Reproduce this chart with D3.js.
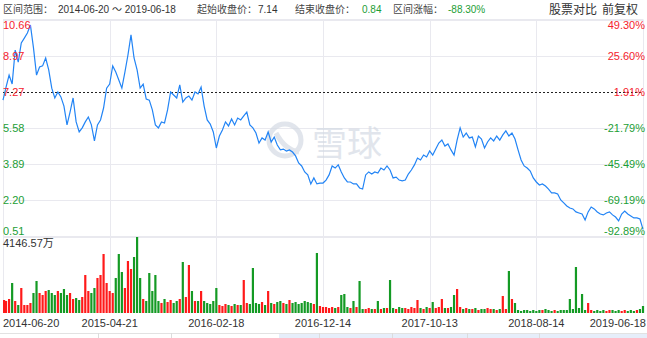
<!DOCTYPE html>
<html lang="zh">
<head>
<meta charset="UTF-8">
<script src="https://cdn.jsdelivr.net/npm/d3@7"></script>
<style>
    body { margin: 0; background: #fff; }
    svg { display: block; font-family: "Liberation Sans", Arial, "Noto Sans CJK SC", sans-serif; }
</style>
</head>
<body>
<div id="chart"></div>
<script>
    // axis labels
    const dateLabels = ["2014-06-20", "2015-04-21", "2016-02-18", "2016-12-14", "2017-10-13", "2018-08-14", "2019-06-18"];
    const dateIndex = [0, 35, 70, 105, 140, 175, 210];
    const priceTicks = [10.66, 8.97, 7.27, 5.58, 3.89, 2.20, 0.51];
    const pctTicks = ["49.30%", "25.60%", "1.91%", "-21.79%", "-45.49%", "-69.19%", "-92.89%"];
    const maxVolume = 4146.57; // 万

    // close price, evenly spaced over the period
    const closes = [
        6.89, 7.50, 8.06, 7.64, 9.23, 8.67, 9.56, 9.79, 10.03, 10.40,
        9.33, 8.06, 8.44, 8.49, 8.86, 8.30, 7.45, 6.99, 7.27, 7.04,
        6.61, 5.73, 6.33, 6.99, 5.87, 5.40, 5.59, 5.87, 6.10, 5.73,
        4.98, 5.73, 5.96, 6.52, 7.45, 7.64, 8.49, 8.20, 7.83, 7.45,
        8.20, 9.00, 9.94, 8.86, 8.30, 7.45, 7.64, 6.94, 6.89, 6.43,
        5.73, 5.59, 5.87, 5.82, 6.43, 7.27, 7.13, 6.99, 7.60, 6.80,
        6.99, 7.08, 6.89, 7.27, 7.18, 7.50, 6.61, 5.96, 5.77, 5.40,
        4.65, 5.21, 5.49, 5.87, 5.68, 6.01, 5.73, 6.05, 5.96, 6.15,
        6.33, 5.73, 5.59, 5.35, 4.88, 5.12, 5.02, 5.40, 4.93, 5.16,
        4.79, 4.56, 4.60, 4.51, 4.56, 4.46, 4.28, 3.95, 3.81, 3.53,
        3.39, 2.97, 3.25, 2.97, 3.01, 3.01, 3.15, 3.39, 3.81, 3.71,
        3.86, 3.53, 3.25, 3.06, 3.06, 2.97, 2.97, 2.78, 2.73, 3.39,
        3.53, 3.43, 3.53, 3.48, 3.71, 3.62, 3.81, 3.62, 3.25, 3.29,
        3.15, 3.11, 3.15, 3.43, 3.62, 3.86, 4.18, 4.09, 4.32, 4.23,
        4.51, 4.32, 4.60, 4.88, 5.02, 4.74, 4.84, 4.56, 4.32, 5.02,
        5.59, 5.16, 5.35, 5.12, 5.16, 4.70, 5.21, 5.07, 4.65, 4.93,
        5.12, 4.98, 5.21, 5.02, 5.26, 5.45, 5.21, 5.35, 5.07, 4.56,
        4.09, 3.81, 3.71, 3.57, 3.25, 3.06, 2.92, 2.97, 2.87, 2.73,
        2.55, 2.55, 2.50, 2.22, 2.08, 1.94, 1.84, 1.80, 1.66, 1.61,
        1.56, 1.28, 1.66, 1.89, 1.80, 1.66, 1.56, 1.52, 1.61, 1.66,
        1.52, 1.42, 1.24, 1.56, 1.70, 1.56, 1.47, 1.38, 1.38, 1.33,
        0.84
    ];

    // volume in 万
    const volumes = [
        709, 655, 764, 1637, 655, 436, 1364, 436, 436, 546,
        1091, 1746, 1091, 982, 1200, 1255, 1091, 982, 1200, 1091,
        1309, 982, 1091, 764, 818, 709, 873, 2073, 1200, 1091,
        1364, 1910, 2073, 3219, 1637, 1200, 1091, 1910, 3219, 2237,
        1364, 2837, 2401, 3055, 4146.57, 1910, 764, 655, 2182, 1200,
        2073, 655, 546, 764, 600, 709, 546, 655, 764, 2783,
        873, 2619, 1200, 655, 655, 1200, 655, 546, 491, 655,
        1364, 436, 382, 491, 436, 382, 491, 436, 436, 1800,
        546, 491, 2455, 546, 491, 600, 436, 1200, 546, 491,
        600, 655, 546, 491, 709, 546, 600, 491, 546, 655,
        600, 546, 491, 3274, 382, 327, 327, 273, 327, 273,
        327, 982, 1037, 327, 273, 655, 327, 1746, 218, 218,
        273, 218, 218, 655, 218, 273, 273, 1800, 273, 218,
        327, 273, 273, 218, 327, 273, 709, 273, 218, 327,
        273, 600, 273, 327, 764, 273, 273, 327, 982, 1309,
        327, 218, 273, 218, 218, 273, 164, 218, 218, 273,
        218, 218, 164, 218, 928, 218, 2292, 764, 546, 164,
        109, 164, 164, 109, 164, 109, 164, 164, 218, 164,
        109, 164, 109, 164, 164, 164, 764, 218, 2510, 273,
        1037, 164, 546, 164, 109, 164, 109, 164, 109, 164,
        164, 109, 164, 109, 164, 109, 164, 109, 164, 218,
        382
    ];

    const W = 647, H = 338;
    const red = "#f5222d", green = "#1c9e35", gridColor = "#e9e9ef";

    const svg = d3.select("#chart").append("svg")
        .attr("width", W)
        .attr("height", H);

    const x = d3.scaleLinear().domain([0, closes.length - 1]).range([3, 643]);
    const y = d3.scaleLinear().domain([0.51, 10.66]).range([236.5, 19.5]);
    const yv = d3.scaleLinear().domain([0, maxVolume]).range([313, 237]);

    // header
    const header = [
        { t: "区间范围：", x: 3, c: "#444" },
        { t: "2014-06-20 ～ 2019-06-18", x: 58, c: "#333" },
        { t: "起始收盘价：", x: 197, c: "#444" },
        { t: "7.14", x: 258, c: "#333" },
        { t: "结束收盘价：", x: 295, c: "#444" },
        { t: "0.84", x: 362, c: green },
        { t: "区间涨幅：", x: 393, c: "#444" },
        { t: "-88.30%", x: 448, c: green }
    ];
    svg.selectAll(".hdr").data(header).enter().append("text")
        .attr("x", d => d.x).attr("y", 13)
        .attr("font-size", 10).attr("fill", d => d.c)
        .text(d => d.t);
    svg.append("text").attr("x", 549).attr("y", 14).attr("font-size", 12).attr("fill", "#333").text("股票对比");
    svg.append("text").attr("x", 602).attr("y", 14).attr("font-size", 12).attr("fill", "#333").text("前复权");

    // grid
    svg.append("g").selectAll("line").data(priceTicks).enter().append("line")
        .attr("x1", 3).attr("x2", 643)
        .attr("y1", d => Math.round(y(d)) + 0.5).attr("y2", d => Math.round(y(d)) + 0.5)
        .attr("stroke", (d, i) => i === 2 ? "none" : gridColor);
    svg.append("g").selectAll("line").data(dateIndex).enter().append("line")
        .attr("x1", d => Math.round(x(d)) + 0.5).attr("x2", d => Math.round(x(d)) + 0.5)
        .attr("y1", 19.5).attr("y2", 313)
        .attr("stroke", gridColor);

    // watermark
    const wm = svg.append("g").attr("opacity", 0.7);
    wm.append("circle").attr("cx", 285).attr("cy", 140).attr("r", 16)
        .attr("fill", "none").attr("stroke", "#d5dbe5").attr("stroke-width", 5);
    wm.append("path").attr("d", "M276,133 Q285,150 299,152")
        .attr("fill", "none").attr("stroke", "#d5dbe5").attr("stroke-width", 5);
    wm.append("text").attr("x", 312).attr("y", 156)
        .attr("font-family", "Noto Sans CJK SC").attr("font-size", 35)
        .attr("fill", "#d5dbe5").text("雪球");

    // reference line
    svg.append("line")
        .attr("x1", 3).attr("x2", 643)
        .attr("y1", Math.round(y(priceTicks[2])) + 0.5).attr("y2", Math.round(y(priceTicks[2])) + 0.5)
        .attr("stroke", "#222").attr("stroke-dasharray", "2,2");

    // volume bars
    const bw = (x(1) - x(0)) * 0.72;
    svg.append("g").selectAll("rect").data(volumes).enter().append("rect")
        .attr("x", (d, i) => Math.max(3, x(i) - bw / 2))
        .attr("y", d => yv(d))
        .attr("width", bw)
        .attr("height", d => 313 - yv(d))
        .attr("fill", (d, i) => (i === 0 || closes[i] >= closes[i - 1]) ? "#ff1a1a" : "#149a24");

    // price line
    const line = d3.line().x((d, i) => x(i)).y(d => y(d));
    svg.append("path").datum(closes)
        .attr("d", line)
        .attr("fill", "none")
        .attr("stroke", "#2284f5")
        .attr("stroke-width", 1.2);

    // left / right labels
    const n = priceTicks.length;
    const labelY = (d, i) => i === 0 ? y(d) + 9 : (i === n - 1 ? y(d) - 2 : y(d) + 4);
    svg.append("g").selectAll("text").data(priceTicks).enter().append("text")
        .attr("x", 3).attr("y", labelY)
        .attr("font-size", 11)
        .attr("fill", (d, i) => i < 3 ? red : green)
        .text(d => d.toFixed(2));
    svg.append("g").selectAll("text").data(pctTicks).enter().append("text")
        .attr("x", 645).attr("y", (d, i) => labelY(priceTicks[i], i))
        .attr("text-anchor", "end")
        .attr("font-size", 11)
        .attr("fill", (d, i) => i < 3 ? red : green)
        .text(d => d);

    // panel separator and volume label
    svg.append("line").attr("x1", 3).attr("x2", 643).attr("y1", 236.5).attr("y2", 236.5).attr("stroke", gridColor);
    svg.append("line").attr("x1", 3).attr("x2", 643).attr("y1", 19.5).attr("y2", 19.5).attr("stroke", gridColor);
    svg.append("text").attr("x", 3).attr("y", 246.5).attr("font-size", 11).attr("fill", "#333")
        .text(d3.format(".2f")(maxVolume) + "万");

    // date labels
    svg.append("g").selectAll("text").data(dateIndex).enter().append("text")
        .attr("x", (d, i) => i === 0 ? 3 : (i === n - 1 ? 646 : x(d)))
        .attr("y", 327)
        .attr("font-size", 11)
        .attr("fill", "#333")
        .attr("text-anchor", (d, i) => i === 0 ? "start" : (i === n - 1 ? "end" : "middle"))
        .text((d, i) => dateLabels[i]);

    // navigator strip at bottom
    svg.append("rect").attr("x", 279).attr("y", 333).attr("width", 368).attr("height", 6).attr("fill", "#e6eefa");
    svg.append("line").attr("x1", 0).attr("x2", 647).attr("y1", 333.5).attr("y2", 333.5).attr("stroke", "#e2e2e2");
    const seps = [98, 171, 319, 392, 467, 539];
    svg.append("g").selectAll("line").data(seps).enter().append("line")
        .attr("x1", d => d + 0.5).attr("x2", d => d + 0.5).attr("y1", 333).attr("y2", 338)
        .attr("stroke", "#dcdcdc");
</script>
</body>
</html>
